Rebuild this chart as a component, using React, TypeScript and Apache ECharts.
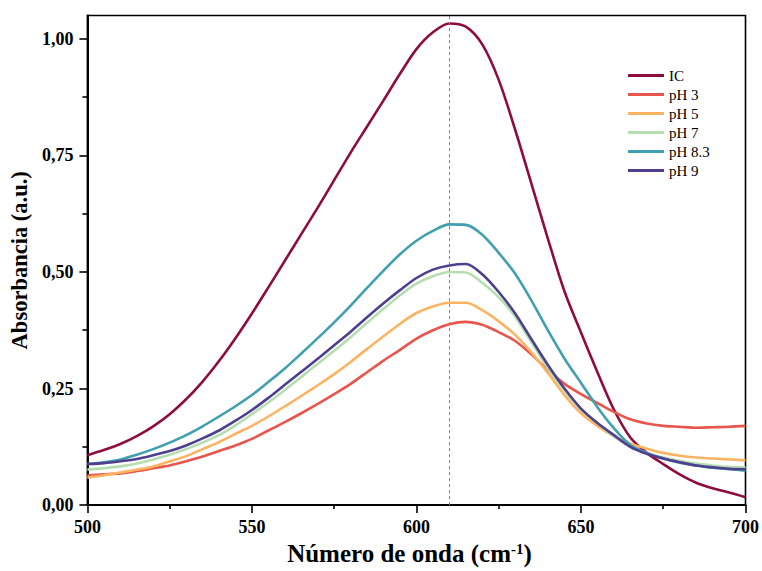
import React, { useEffect, useRef } from "react";
import * as echarts from "echarts";

// Wavenumber grid (cm-1)
const wavenumbers = [
  500, 505, 510, 515, 520, 525, 530, 535, 540, 545, 550, 555, 560, 565, 570, 575, 580, 585, 590, 595,
  600, 605, 610, 615, 620, 625, 630, 635, 640, 645, 650, 655, 660, 665, 670, 675, 680, 685, 690, 695, 700,
];

// Absorbance spectra
const absIC = [
  0.107, 0.118, 0.131, 0.148, 0.169, 0.195, 0.227, 0.265, 0.309, 0.358, 0.411, 0.467, 0.524, 0.581, 0.638, 0.697,
  0.756, 0.812, 0.868, 0.925, 0.978, 1.014, 1.033, 1.026, 0.988, 0.912, 0.805, 0.688, 0.57, 0.458, 0.37, 0.285,
  0.205, 0.145, 0.112, 0.088, 0.066, 0.048, 0.036, 0.027, 0.017,
];
const absPH3 = [
  0.064, 0.066, 0.068, 0.073, 0.079, 0.085, 0.094, 0.104, 0.116, 0.128, 0.142, 0.16, 0.178, 0.197, 0.217, 0.238,
  0.26, 0.285, 0.31, 0.333, 0.357, 0.375, 0.388, 0.393, 0.387, 0.371, 0.352, 0.323, 0.289, 0.26, 0.238, 0.219,
  0.2, 0.184, 0.175, 0.17, 0.168, 0.166, 0.167, 0.168, 0.17,
];
const absPH5 = [
  0.059, 0.064, 0.07, 0.076, 0.083, 0.094, 0.105, 0.12, 0.135, 0.153, 0.17, 0.19, 0.212, 0.234, 0.257, 0.281,
  0.307, 0.335, 0.362, 0.389, 0.412, 0.426, 0.434, 0.434, 0.418, 0.394, 0.365, 0.327, 0.283, 0.236, 0.197, 0.17,
  0.148, 0.132, 0.121, 0.112, 0.106, 0.102, 0.1, 0.098, 0.096,
];
const absPH7 = [
  0.076, 0.079, 0.083, 0.089, 0.098, 0.108, 0.12, 0.134, 0.15, 0.171, 0.195, 0.22, 0.247, 0.275, 0.303, 0.331,
  0.36, 0.391, 0.421, 0.45, 0.475, 0.491, 0.5, 0.499, 0.477, 0.446, 0.404, 0.349, 0.293, 0.245, 0.205, 0.176,
  0.147, 0.125, 0.112, 0.102, 0.095, 0.089, 0.085, 0.082, 0.081,
];
const absPH83 = [
  0.088, 0.092, 0.098, 0.108, 0.12, 0.134, 0.15, 0.169, 0.19, 0.212, 0.236, 0.264, 0.293, 0.325, 0.358, 0.392,
  0.428, 0.466, 0.503, 0.538, 0.567, 0.588, 0.602, 0.601, 0.58, 0.541, 0.496, 0.438, 0.374, 0.314, 0.262, 0.21,
  0.165, 0.129, 0.112, 0.1, 0.091, 0.085, 0.08, 0.077, 0.074,
];
const absPH9 = [
  0.088, 0.09, 0.094, 0.099, 0.107, 0.116, 0.128, 0.143, 0.16, 0.181, 0.204, 0.23, 0.258, 0.286, 0.314, 0.343,
  0.372, 0.403, 0.433, 0.461, 0.487, 0.505, 0.514, 0.517, 0.495, 0.457, 0.411, 0.355, 0.3, 0.25, 0.207, 0.176,
  0.15, 0.125, 0.11, 0.1, 0.092, 0.085, 0.081, 0.078, 0.077,
];

const seriesNames = ["IC", "pH 3", "pH 5", "pH 7", "pH 8.3", "pH 9"];
const seriesValues = [absIC, absPH3, absPH5, absPH7, absPH83, absPH9];
const seriesColors = ["#8E0D3F", "#E8554C", "#FDB462", "#B4DDB0", "#40A0B0", "#4F3F8F"];

const yMajorTicks = [0, 0.25, 0.5, 0.75, 1.0];
const yMinorTicks = [0.125, 0.375, 0.625, 0.875];
const peakPosition = 610;

const FONT = "'Liberation Serif', 'Times New Roman', serif";

export default function App() {
  const ref = useRef<HTMLDivElement>(null);

  useEffect(() => {
    if (!ref.current) return;
    const chart = echarts.init(ref.current, undefined, { renderer: "svg" });

    const series: any[] = seriesNames.map((name, i) => ({
      name,
      type: "line",
      data: wavenumbers.map((x, j) => [x, seriesValues[i][j]]),
      showSymbol: false,
      smooth: 0.3,
      lineStyle: { color: seriesColors[i], width: 2.6 },
      itemStyle: { color: seriesColors[i] },
      z: 3,
    }));

    series[0].markLine = {
      silent: true,
      symbol: ["none", "none"],
      label: { show: false },
      lineStyle: { type: [3, 3], color: "#808080", width: 1 },
      data: [{ xAxis: peakPosition }],
    };

    chart.setOption({
      animation: false,
      backgroundColor: "#ffffff",
      textStyle: { fontFamily: FONT },
      grid: {
        left: 84,
        right: 13,
        top: 15.5,
        bottom: 65.5,
        show: true,
        borderColor: "#000",
        borderWidth: 1.6,
      },
      legend: {
        orient: "vertical",
        left: 623,
        top: 63,
        icon: "rect",
        itemWidth: 36,
        itemHeight: 3,
        itemGap: 4,
        textStyle: { fontFamily: FONT, fontSize: 15, color: "#000" },
        data: seriesNames,
      },
      xAxis: {
        type: "value",
        min: 500,
        max: 700,
        interval: 50,
        name: "Número de onda (cm{sup|-1})",
        nameLocation: "middle",
        nameGap: 35,
        nameTextStyle: {
          fontFamily: FONT,
          fontSize: 25,
          fontWeight: "bold",
          color: "#000",
          padding: [0, 14, 0, 0],
          rich: {
            sup: {
              fontFamily: FONT,
              fontSize: 15,
              fontWeight: "bold",
              color: "#000",
              verticalAlign: "top",
              lineHeight: 14,
            },
          },
        },
        axisLine: { lineStyle: { color: "#000", width: 2 } },
        axisTick: { length: 8, lineStyle: { color: "#000", width: 1.6 } },
        minorTick: { show: true, splitNumber: 2, length: 4, lineStyle: { color: "#000", width: 1.6 } },
        axisLabel: {
          margin: 13,
          fontFamily: FONT,
          fontSize: 18,
          fontWeight: "bold",
          color: "#000",
        },
        splitLine: { show: false },
      },
      yAxis: [
        {
          type: "value",
          min: 0,
          max: 1.05,
          position: "left",
          name: "Absorbancia (a.u.)",
          nameLocation: "middle",
          nameGap: 51,
          nameTextStyle: { fontFamily: FONT, fontSize: 22.5, fontWeight: "bold", color: "#000" },
          axisLine: { lineStyle: { color: "#000", width: 2 } },
          axisTick: { length: 8, customValues: yMajorTicks, lineStyle: { color: "#000", width: 1.6 } },
          axisLabel: {
            margin: 14,
            customValues: yMajorTicks,
            fontFamily: FONT,
            fontSize: 18,
            fontWeight: "bold",
            color: "#000",
            formatter: (v: number) => v.toFixed(2).replace(".", ","),
          },
          splitLine: { show: false },
        },
        {
          type: "value",
          min: 0,
          max: 1.05,
          position: "left",
          axisLine: { show: false },
          axisTick: { show: true, length: 5, customValues: yMinorTicks, lineStyle: { color: "#000", width: 1.6 } },
          axisLabel: { show: false },
          splitLine: { show: false },
        },
      ],
      series,
    });

    return () => chart.dispose();
  }, []);

  return (
    <div
      ref={ref}
      style={{ position: "absolute", left: 0, top: 0, width: 762, height: 571, background: "#fff" }}
    />
  );
}
